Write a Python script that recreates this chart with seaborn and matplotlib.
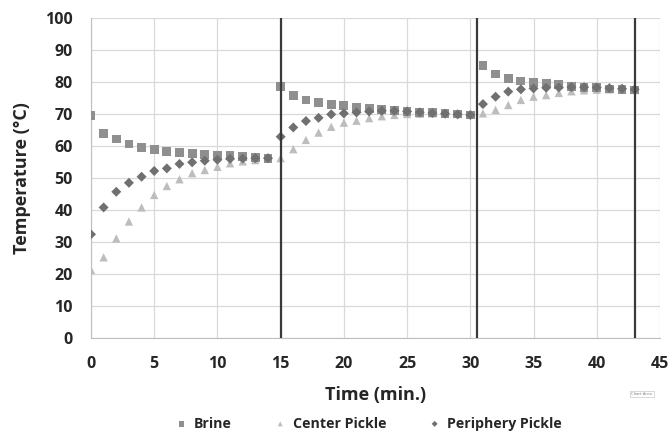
import numpy as np
import pandas as pd
import matplotlib
matplotlib.use("Agg")
import matplotlib.pyplot as plt
import seaborn as sns

# time points (min) for each of the three brine stages
time = list(range(0, 44))

brine = [69.5, 64.0, 62.2, 60.6, 59.5, 59.0, 58.4, 58.0, 57.7, 57.4, 57.2, 57.0, 56.7, 56.5, 56.2,
         78.5, 75.7, 74.4, 73.6, 73.0, 72.6, 72.1, 71.8, 71.5, 71.1, 70.7, 70.4, 70.4, 70.2, 70.0, 69.7,
         85.1, 82.5, 81.1, 80.3, 79.8, 79.6, 79.1, 78.5, 78.2, 78.2, 77.8, 77.7, 77.5]
center = [21.3, 25.2, 31.1, 36.4, 40.8, 44.7, 47.5, 49.6, 51.5, 52.5, 53.5, 54.6, 55.2, 55.6, 56.0,
          56.2, 59.0, 61.9, 64.2, 66.0, 67.3, 67.9, 68.7, 69.3, 69.7, 70.0, 70.1, 70.2, 70.1, 70.0, 69.8,
          70.2, 71.3, 72.8, 74.4, 75.4, 75.9, 76.6, 77.1, 77.4, 77.6, 77.7, 77.6, 77.5]
periphery = [32.4, 40.8, 45.7, 48.5, 50.4, 52.2, 53.0, 54.4, 54.9, 55.4, 55.7, 56.0, 56.1, 56.2, 56.2,
             62.9, 65.8, 67.8, 68.8, 69.9, 70.2, 70.5, 70.8, 71.0, 71.0, 70.8, 70.5, 70.3, 70.1, 69.9, 69.7,
             73.1, 75.4, 77.0, 77.7, 78.0, 78.2, 78.3, 78.4, 78.4, 78.3, 78.1, 77.9, 77.7]

series_names = ["Brine", "Center Pickle", "Periphery Pickle"]
stage_changes = [15, 30.5, 43]

df = pd.DataFrame({
    "time": time * 3,
    "temp": brine + center + periphery,
    "series": [s for s in series_names for _ in time],
})

sns.set_style("whitegrid")
plt.rcParams["font.family"] = ["Open Sans", "DejaVu Sans"]

fig = plt.figure(figsize=(6.72, 4.34), dpi=100)
ax = fig.add_axes([0.1354, 0.2212, 0.8467, 0.7373])

palette = {"Brine": "#8f8f8f", "Center Pickle": "#bdbdbd", "Periphery Pickle": "#707070"}
markers = {"Brine": "s", "Center Pickle": "^", "Periphery Pickle": "D"}
sizes = {"Brine": 40, "Center Pickle": 36, "Periphery Pickle": 26}

for name in series_names:
    sub = df[df["series"] == name]
    sns.scatterplot(data=sub, x="time", y="temp", ax=ax, color=palette[name],
                    marker=markers[name], s=sizes[name], edgecolor="none",
                    label=name, zorder=3 if name != "Center Pickle" else 2)

for t in stage_changes:
    ax.axvline(t, color="#3a3a3a", lw=1.6, zorder=4)

ax.set_xlim(0, 45)
ax.set_ylim(0, 100)
ax.set_xticks(range(0, 46, 5))
ax.set_yticks(range(0, 101, 10))
ax.grid(True, color="#d9d9d9", lw=0.9)
for side in ["top", "right"]:
    ax.spines[side].set_visible(False)
for side in ["left", "bottom"]:
    ax.spines[side].set_color("#bfbfbf")
ax.tick_params(axis="y", labelsize=11.5, length=0, pad=13)
ax.tick_params(axis="x", labelsize=11.5, length=0, pad=13)
for lab in ax.get_xticklabels() + ax.get_yticklabels():
    lab.set_fontweight("bold")
ax.set_xlabel("Time (min.)", fontsize=13, fontweight="bold", labelpad=10)
ax.set_ylabel("Temperature (°C)", fontsize=13, fontweight="bold", labelpad=10)

ax.legend_.remove()
handles, labels = ax.get_legend_handles_labels()
fig.legend(handles, labels, loc="center", bbox_to_anchor=(0.548, 0.024), ncol=3, frameon=False,
           prop={"weight": "bold", "size": 10.2}, markerscale=0.6, handlelength=1.0,
           handletextpad=0.4, columnspacing=2.9)

fig.text(0.955, 0.09, "Chart Area", fontsize=3, color="#777777", ha="center",
         bbox=dict(facecolor="white", edgecolor="#bbbbbb", lw=0.4, pad=1))

fig.savefig("out.png", dpi=100)
